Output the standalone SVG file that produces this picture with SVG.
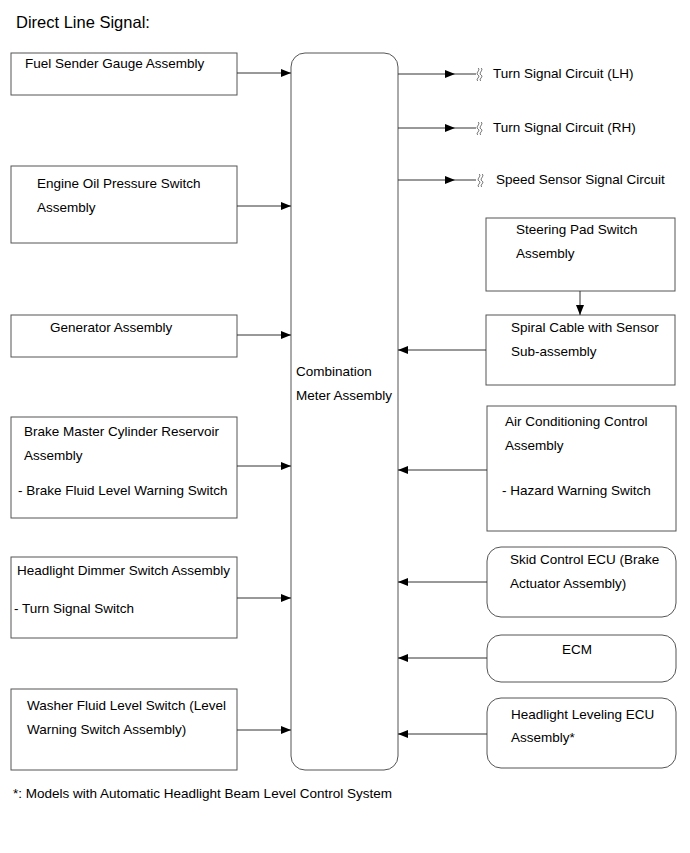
<svg xmlns="http://www.w3.org/2000/svg" width="690" height="853" viewBox="0 0 690 853">
<style>
text{font-family:"Liberation Sans",Arial,sans-serif;font-size:13.5px;fill:#000}
.t{font-size:16.5px}
.b{fill:#fff;stroke:#555;stroke-width:1}
.c{stroke:#333;stroke-width:1;fill:none}
.s{stroke:#555;stroke-width:0.9;fill:none}
</style>
<defs>
<marker id="ah" markerWidth="10" markerHeight="8" refX="10" refY="4" orient="auto" markerUnits="userSpaceOnUse">
<path d="M0,0 L10,4 L0,8 Z" fill="#000"/>
</marker>
<g id="sq"><path class="s" d="M0,-6 C3,-4 -3,-1 0,1 C3,3 -3,5 0,7"/><path class="s" d="M3,-6 C6,-4 0,-1 3,1 C6,3 0,5 3,7"/></g>
</defs>
<rect width="690" height="853" fill="#fff"/>
<text class="t" x="16" y="28">Direct Line Signal:</text>

<g id="combination-meter">
<rect class="b" x="291" y="53" width="107" height="717" rx="14"/>
<text x="296" y="376">Combination</text>
<text x="296" y="400">Meter Assembly</text>
</g>

<g id="fuel-sender"><rect class="b" x="11" y="53" width="226" height="42"/><text x="25" y="68">Fuel Sender Gauge Assembly</text></g>
<g id="engine-oil"><rect class="b" x="11" y="166" width="226" height="77"/><text x="37" y="188">Engine Oil Pressure Switch</text><text x="37" y="212">Assembly</text></g>
<g id="generator"><rect class="b" x="11" y="315" width="226" height="42"/><text x="50" y="332">Generator Assembly</text></g>
<g id="brake-master"><rect class="b" x="11" y="417" width="226" height="101"/><text x="24" y="436">Brake Master Cylinder Reservoir</text><text x="24" y="460">Assembly</text><text x="18" y="495">- Brake Fluid Level Warning Switch</text></g>
<g id="headlight-dimmer"><rect class="b" x="11" y="557" width="226" height="81"/><text x="17" y="575">Headlight Dimmer Switch Assembly</text><text x="14" y="613">- Turn Signal Switch</text></g>
<g id="washer-fluid"><rect class="b" x="11" y="689" width="226" height="81"/><text x="27" y="710">Washer Fluid Level Switch (Level</text><text x="27" y="734">Warning Switch Assembly)</text></g>

<g id="steering-pad"><rect class="b" x="486" y="218" width="189" height="73"/><text x="516" y="234">Steering Pad Switch</text><text x="516" y="258">Assembly</text></g>
<g id="spiral-cable"><rect class="b" x="486" y="315" width="189" height="70"/><text x="511" y="332">Spiral Cable with Sensor</text><text x="511" y="356">Sub-assembly</text></g>
<g id="air-conditioning"><rect class="b" x="487" y="406" width="189" height="125"/><text x="505" y="426">Air Conditioning Control</text><text x="505" y="450">Assembly</text><text x="502" y="495">- Hazard Warning Switch</text></g>
<g id="skid-control"><rect class="b" x="487" y="547" width="189" height="70" rx="14"/><text x="510" y="564">Skid Control ECU (Brake</text><text x="510" y="588">Actuator Assembly)</text></g>
<g id="ecm"><rect class="b" x="487" y="635" width="189" height="47" rx="14"/><text x="562" y="654">ECM</text></g>
<g id="headlight-leveling"><rect class="b" x="487" y="698" width="189" height="70" rx="14"/><text x="511" y="719">Headlight Leveling ECU</text><text x="511" y="742">Assembly*</text></g>

<g id="outputs">
<text x="493" y="78">Turn Signal Circuit (LH)</text>
<text x="493" y="132">Turn Signal Circuit (RH)</text>
<text x="496" y="184">Speed Sensor Signal Circuit</text>
</g>

<g id="connectors">
<line class="c" x1="237" y1="73" x2="291" y2="73" marker-end="url(#ah)"/>
<line class="c" x1="237" y1="206" x2="291" y2="206" marker-end="url(#ah)"/>
<line class="c" x1="237" y1="335" x2="291" y2="335" marker-end="url(#ah)"/>
<line class="c" x1="237" y1="466" x2="291" y2="466" marker-end="url(#ah)"/>
<line class="c" x1="237" y1="598" x2="291" y2="598" stroke="#999" marker-end="url(#ah)"/>
<line class="c" x1="237" y1="730" x2="291" y2="730" marker-end="url(#ah)"/>

<line class="c" x1="398" y1="74" x2="455" y2="74" marker-end="url(#ah)"/><line class="c" x1="455" y1="74" x2="476" y2="74"/><use href="#sq" x="478" y="74"/>
<line class="c" x1="398" y1="128" x2="455" y2="128" marker-end="url(#ah)"/><line class="c" x1="455" y1="128" x2="476" y2="128"/><use href="#sq" x="478" y="128"/>
<line class="c" x1="398" y1="180" x2="455" y2="180" stroke="#aaa" marker-end="url(#ah)"/><line class="c" x1="455" y1="180" x2="476" y2="180" stroke="#aaa"/><use href="#sq" x="479" y="180"/>

<line class="c" x1="580" y1="291" x2="580" y2="315" marker-end="url(#ah)"/>
<line class="c" x1="486" y1="350" x2="398" y2="350" marker-end="url(#ah)"/>
<line class="c" x1="487" y1="470" x2="398" y2="470" marker-end="url(#ah)"/>
<line class="c" x1="487" y1="582" x2="398" y2="582" marker-end="url(#ah)"/>
<line class="c" x1="487" y1="658" x2="398" y2="658" marker-end="url(#ah)"/>
<line class="c" x1="487" y1="734" x2="398" y2="734" marker-end="url(#ah)"/>
</g>

<text x="13" y="798" font-size="12.4">*: Models with Automatic Headlight Beam Level Control System</text>
</svg>
